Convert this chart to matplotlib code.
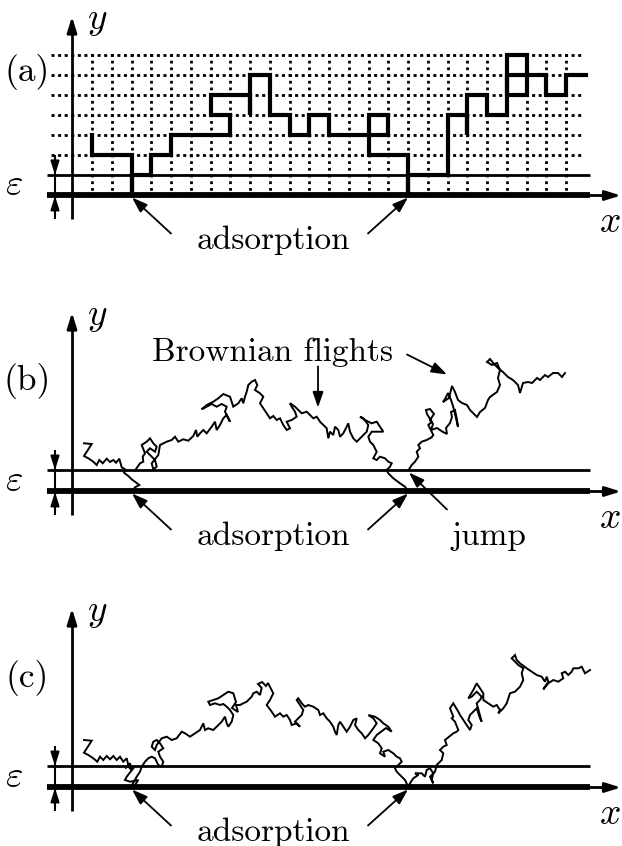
import numpy as np
import matplotlib
matplotlib.use('Agg')
import matplotlib.pyplot as plt

plt.rcParams['mathtext.fontset'] = 'cm'
plt.rcParams['lines.scale_dashes'] = False

W, H = 622, 846
PX = 0.72  # points per pixel at dpi 100

# ---------------- panel layout values (pixel rows) ----------------
PANEL_LABELS = ['(a)', '(b)', '(c)']
WALL_Y = [195.5, 491.5, 787.5]      # adsorbing wall per panel
EPS = [20.1, 21.0, 21.0]            # width of the epsilon strip
LABEL_Y = [72, 381, 678]

# ---------------- (a) lattice walk, vertices in (column, row) ----------------
LAT_PATH = [(0, 3), (0, 2), (2, 2), (2, 0), (2, 1), (3, 1), (3, 2), (4, 2), (4, 3),
            (7, 3), (7, 4), (6, 4), (6, 5), (8, 5), (8, 4), (8, 6), (9, 6), (9, 4),
            (10, 4), (10, 3), (11, 3), (11, 4), (12, 4), (12, 3), (15, 3), (15, 4),
            (14, 4), (14, 2), (16, 2), (16, 0), (16, 1), (18, 1), (18, 4), (19, 4),
            (19, 3), (19, 5), (20, 5), (20, 4), (21, 4), (21, 7), (22, 7), (22, 5),
            (21, 5), (21, 6), (23, 6), (23, 5), (24, 5), (24, 6), (25, 6)]
LAT_X0, LAT_DX, LAT_DY = 92.0, 19.75, 20.1
LAT_COLS = list(range(0, 25))
LAT_ROWS = list(range(2, 8))

# ---------------- (b) Brownian flights (pixel coordinates) ----------------
B_SEG1 = [(84, 443.3), (91.7, 444), (84, 456), (88.3, 458.3), (93.3, 461.7), (96.7, 465),
          (99.3, 460), (102.7, 463.3), (106.7, 458.7), (110, 462), (113.3, 460), (116, 462.7),
          (119.3, 458.7), (121.7, 467.3), (125, 469.3), (124, 472.7), (128.3, 476),
          (131.7, 479.3), (139.3, 485), (135, 487.3), (131.7, 491.5)]
B_SEG2 = [(135, 470.5), (140, 463.3), (143.3, 461.7), (142.7, 456.7), (145, 453.3), (141.7, 445),
          (146.7, 441.7), (150, 438.3), (153.3, 443.3), (156.7, 446.7), (155, 451.7), (150, 448.3),
          (146.7, 451.7), (151.7, 456.7), (155, 460), (156.7, 466.7), (153.3, 469.3), (151.7, 463.3),
          (158.3, 455), (160, 445), (166.7, 441.7), (171.7, 440), (175, 436.7), (178.3, 441.7),
          (183.3, 439.3), (188.3, 440.7), (193.3, 436), (196, 430), (197.3, 436.7), (200, 433.3),
          (203.3, 430), (206.7, 433.3), (211.7, 426.7), (215, 421.7), (216.7, 430), (220, 425),
          (223.3, 418.3), (226.7, 415), (230, 421.7), (225, 411.7), (226.7, 406.7), (221.7, 404),
          (216.7, 406.7), (211.7, 404), (206.7, 406.7), (201.7, 409.3), (206.7, 405), (213.3, 401.7),
          (218.3, 398.3), (223.3, 394), (230, 396.7), (233.3, 406.7), (238.3, 403.3), (241.7, 398.3),
          (243.3, 403.3), (245, 396.7), (246.7, 391.7), (248.3, 385), (251.7, 381.7), (255, 380),
          (257.3, 385), (255, 390), (260, 393.3), (263.3, 396.7), (260, 403.3), (263.3, 408.3),
          (266.7, 413.3), (270, 418.3), (273.3, 416), (276.7, 420), (280, 418.3), (283.3, 425),
          (286.7, 430), (290, 428.3), (286.7, 421.7), (291.7, 420), (296.7, 416.7), (295, 411.7),
          (291.7, 406.7), (290, 403.3), (295, 406.7), (298.3, 410), (301.7, 413.3), (306.7, 411.7),
          (310, 415), (313.3, 418.3), (316.7, 416.7), (320, 421.7), (323.3, 425), (326.7, 428.3),
          (328.3, 438.3), (330, 431.7), (333.3, 435), (335, 426.7), (338.3, 430), (340, 436.7),
          (343.3, 433.3), (346.7, 426.7), (348.3, 423.3), (350, 431.7), (353.3, 438.3),
          (356.7, 441.7), (361.7, 436.7), (366.7, 431.7), (368.3, 425), (363.3, 418.3), (360, 416.7),
          (365, 420), (371.7, 423.3), (376.7, 421.7), (380, 426.7), (383.3, 431.7), (371.7, 431.7),
          (368.3, 436.7), (370, 441.7), (373.3, 445), (376.7, 451.7), (373.3, 458.3), (376.7, 460),
          (380, 456.7), (385, 458.3), (388.3, 461.7), (391.7, 463.3), (390, 466.7), (386.7, 470),
          (388.3, 473.3), (393.3, 478.3), (400, 483.3), (405, 486.7), (408.3, 491.5)]
B_SEG3 = [(408.3, 470.5), (411.7, 465), (415, 461.7), (418.3, 456.7), (416.7, 451.7), (420, 448.3),
          (418.3, 445), (421.7, 441.7), (426.7, 440), (431.7, 437.3), (433.3, 435), (428.3, 425),
          (431.7, 421.7), (427, 414), (426, 410), (430, 409), (434, 414), (430, 420), (433, 424),
          (431, 430), (437, 428), (440, 430), (443, 432), (447, 434), (446, 428), (450, 423),
          (452, 417), (451, 412), (455, 410), (457, 420), (458, 427), (456, 418), (453, 406),
          (451, 400), (448, 393), (445, 399), (443, 402), (449, 398), (452, 386), (455, 392),
          (458, 400), (462, 403), (467, 405), (470, 410), (473, 413), (477, 417), (480, 412),
          (485, 408), (488, 400), (490, 397), (497, 392), (500, 385), (498, 378), (500, 370),
          (497, 363), (492, 365), (487, 362), (490, 359), (494, 364), (498, 368), (503, 372),
          (508, 377), (513, 380), (518, 385), (520, 393), (523, 383), (528, 382), (532, 383),
          (537, 378), (540, 380), (545, 375), (548, 377), (553, 373), (558, 373), (562, 377),
          (565, 373)]

# ---------------- (c) continuous Brownian path (pixel coordinates) ----------------
C_PATH = [(84, 740), (91.7, 740.7), (84, 752.7), (88.3, 755), (93.3, 758.3), (97.3, 761.7),
          (100, 756.7), (103.3, 760), (106.7, 756), (110, 759.3), (113.3, 756), (116.7, 760),
          (120, 756.7), (123.3, 761.7), (126.7, 758.3), (128.3, 765), (125, 768.3), (130, 763.3),
          (131.7, 770), (128.3, 766.7), (133.3, 768.3), (126.7, 776.7), (125, 780), (130, 781.7),
          (138.3, 780), (135, 785), (130.7, 787.5), (136.7, 776.7), (140, 771.7), (141.7, 766.7),
          (145, 761.7), (148.3, 758.3), (151.7, 756.7), (155, 758.3), (158.3, 765), (161.7, 766.7),
          (163.3, 761.7), (160, 756.7), (158.3, 751.7), (163.3, 748.3), (160, 743.3), (156.7, 740),
          (153.3, 741.7), (151.7, 746.7), (155, 750), (156.7, 745), (161.7, 738.3), (166.7, 736.7),
          (171.7, 740), (176.7, 738.3), (181.7, 731.7), (185, 733.3), (190, 736.7), (195, 733.3),
          (200, 730), (203.3, 723.3), (205, 730), (208.3, 728.3), (213.3, 730), (216.7, 726.7),
          (221.7, 721.7), (225, 716.7), (226.7, 723.3), (228.3, 726.7), (231.7, 721.7), (233.3, 715),
          (230, 710), (226.7, 706.7), (223.3, 704), (220, 705), (215, 703.3), (210, 705),
          (208.3, 701.7), (213.3, 700), (218.3, 698.3), (223.3, 695), (228.3, 691.7), (233.3, 693.3),
          (236, 702), (232, 708), (238, 712), (236, 705), (240, 705), (243.3, 703.3), (246.7, 701.7),
          (251.7, 696.7), (253.3, 693.3), (256.7, 691.7), (260, 695), (261.7, 688), (258, 684),
          (262, 682), (266, 686), (268, 683), (273.3, 693.3), (270, 700), (266.7, 705),
          (271.7, 711.7), (275, 716.7), (280, 713.3), (283.3, 716.7), (286.7, 715), (290, 720),
          (291.7, 725), (296.7, 723.3), (300, 726.7), (295, 721.7), (298.3, 718.3), (301.7, 715),
          (303.3, 710), (300, 705), (296.7, 700), (298.3, 698.3), (301.7, 703.3), (305, 706.7),
          (308.3, 705), (313.3, 706.7), (318.3, 710), (320, 715), (323.3, 713.3), (326.7, 718.3),
          (330, 721.7), (333.3, 726.7), (335, 731.7), (336.7, 735), (338.3, 725), (340, 721.7),
          (343.3, 726.7), (346.7, 731.7), (350, 726.7), (353.3, 720), (356.7, 718.3), (355, 725),
          (358.3, 730), (361.7, 733.3), (365, 738.3), (368.3, 735), (373.3, 728.3), (376.7, 723.3),
          (373.3, 718.3), (368.3, 715), (375, 716.7), (380, 720), (383.3, 723.3), (388.3, 726.7),
          (391.7, 731.7), (386, 728), (376.7, 735), (373.3, 740), (378.3, 743.3), (381.7, 748.3),
          (380, 753.3), (385, 756.7), (383.3, 751.7), (388.3, 750), (393.3, 753.3), (396.7, 756.7),
          (400, 758.3), (401.7, 761.7), (398.3, 765), (395, 768.3), (396.7, 771.7), (401.7, 776.7),
          (405, 780), (408.3, 787), (410, 783.3), (413.3, 778.3), (418.3, 775), (415, 773.3),
          (421.7, 773.3), (425, 776.7), (426.7, 770), (430, 768.3), (433.3, 773.3), (431.7, 780),
          (433.3, 783.3), (430, 776.7), (435, 771.7), (436.7, 765), (441.7, 760), (443.3, 753.3),
          (440, 750), (443.3, 746.7), (446.7, 745), (445, 740), (448.3, 737.3), (453.3, 733.3),
          (456.7, 731.7), (458.3, 730), (455, 721.7), (451.7, 718.3), (453.3, 716.7), (450, 708.3),
          (453.3, 703.3), (458.3, 711.7), (460, 715), (466.7, 725), (470, 730), (471.7, 725),
          (468.3, 720), (470, 715), (473.3, 711.7), (476.7, 708.3), (480, 718.3), (481.7, 721.7),
          (476.7, 703.3), (480, 700), (481.7, 696.7), (476.7, 691.7), (471.7, 696.7), (468.3, 698.3),
          (473.3, 690), (476.7, 683.3), (480, 688.3), (483.3, 693.3), (483.3, 700), (488.3, 703.3),
          (493.3, 706.7), (496.7, 705), (500, 710), (498.3, 713.3), (503.3, 708.3), (506.7, 703.3),
          (508.3, 698.3), (510, 693.3), (515, 691.7), (520, 686.7), (523.3, 680), (521.7, 673.3),
          (523.3, 668.3), (518.3, 665), (515, 661.7), (511.7, 658.3), (515, 655), (516.7, 660),
          (520, 663.3), (526.7, 668.3), (531.7, 671.7), (536.7, 675), (541.7, 676.7), (545, 681.7),
          (546.7, 676.7), (548.3, 681.7), (543.3, 689.3), (548.3, 683.3), (553.3, 680),
          (558.3, 681.7), (563.3, 678.3), (561.7, 673.3), (565, 671.7), (568.3, 675), (571.7, 671.7),
          (573.3, 668.3), (578.3, 668.3), (581.7, 666.7), (585, 673.3), (590, 670)]

# ---------------- annotation text ----------------
ADS_TEXT = 'adsorption'
FLIGHTS_TEXT = 'Brownian flights'
JUMP_TEXT = 'jump'
ADS_SITES = [132, 408]   # x where the walk hits the wall

SERIF = 'cmr10'
TXT_FS = 24
LBL_FS = 25.5
MATH_FS = 27

fig = plt.figure(figsize=(W / 100, H / 100), dpi=100)
ax = fig.add_axes([0, 0, 1, 1])
ax.set_xlim(0, W)
ax.set_ylim(H, 0)
ax.axis('off')


def arrow(x0, y0, x1, y1, lw=1.3, hl=13, hw=4.5):
    ax.annotate('', xy=(x1, y1), xytext=(x0, y0),
                arrowprops=dict(arrowstyle='-|>,head_length=%.3f,head_width=%.3f'
                                % (hl * PX / 10, hw * PX / 10),
                                mutation_scale=10, lw=lw, color='black',
                                shrinkA=0, shrinkB=0))


for k in range(3):
    wy = WALL_Y[k]
    ey = wy - EPS[k]
    # axes
    ax.plot([72, 72], [wy + 24, wy - 170], color='black', lw=2.0, solid_capstyle='butt', zorder=5)
    arrow(72, wy - 165, 72, wy - 179, lw=2.0, hl=13, hw=4)
    ax.plot([47, 608], [wy, wy], color='black', lw=2.0, solid_capstyle='butt', zorder=5)
    arrow(605, wy, 621, wy, lw=2.0, hl=13, hw=4)
    # adsorbing wall and epsilon line
    ax.plot([47, 590], [wy, wy], color='black', lw=4.2, solid_capstyle='butt', zorder=6)
    ax.plot([47, 590], [ey, ey], color='black', lw=2.0, solid_capstyle='butt', zorder=6)
    # epsilon marker
    ax.plot([55, 55], [ey - 20, wy + 24], color='black', lw=1.5, solid_capstyle='butt', zorder=6)
    arrow(55, ey - 8, 55, ey - 0.5, lw=1.5, hl=11, hw=3.5)
    arrow(55, wy + 8, 55, wy + 0.5, lw=1.5, hl=11, hw=3.5)
    ax.text(14, wy - EPS[k] / 2, r'$\varepsilon$', fontsize=MATH_FS, ha='center', va='center')
    ax.text(97, wy - 175, r'$y$', fontsize=MATH_FS, ha='center', va='center')
    ax.text(610, wy + 26, r'$x$', fontsize=MATH_FS, ha='center', va='center')
    ax.text(27, LABEL_Y[k], PANEL_LABELS[k], family=SERIF, fontsize=LBL_FS, ha='center', va='center')
    # adsorption labels and arrows
    ax.text(273, wy + 45, ADS_TEXT, family=SERIF, fontsize=TXT_FS, ha='center', va='center')
    arrow(171, wy + 38, ADS_SITES[0], wy + 2)
    arrow(368, wy + 38, ADS_SITES[1], wy + 2)

# ---- (a) lattice ----
wa = WALL_Y[0]
for j in LAT_ROWS:
    yy = wa - j * LAT_DY
    ax.plot([LAT_X0 - 2 * LAT_DX - 1.5, 582], [yy, yy], color='black', lw=2.0,
            ls=(0, (2.2, LAT_DX / 3 * PX - 2.2)), solid_capstyle='butt', zorder=2)
for i in LAT_COLS:
    xx = LAT_X0 + i * LAT_DX
    ax.plot([xx, xx], [wa + 1.5, wa - 7 * LAT_DY - 3], color='black', lw=2.0,
            ls=(0, (2.0, LAT_DY / 3 * PX - 2.0)), solid_capstyle='butt', zorder=2)
lat = np.array(LAT_PATH, dtype=float)
ax.plot(LAT_X0 + lat[:, 0] * LAT_DX, wa - lat[:, 1] * LAT_DY, color='black', lw=3.0,
        solid_joinstyle='miter', solid_capstyle='projecting', zorder=7)

# ---- (b) Brownian flights ----
for seg in (B_SEG1, B_SEG2, B_SEG3):
    s = np.array(seg)
    ax.plot(s[:, 0], s[:, 1], color='black', lw=1.4, solid_joinstyle='miter', zorder=7)
wb = WALL_Y[1]
ax.text(272, wb - 139, FLIGHTS_TEXT, family=SERIF, fontsize=TXT_FS, ha='center', va='center')
arrow(318, wb - 125, 318, wb - 84)
arrow(407, wb - 137, 447, wb - 117)
ax.text(489, wb + 45, JUMP_TEXT, family=SERIF, fontsize=TXT_FS, ha='center', va='center')
arrow(447, wb + 18, 409, wb - EPS[1] + 2)

# ---- (c) continuous path ----
c = np.array(C_PATH)
ax.plot(c[:, 0], c[:, 1], color='black', lw=1.4, solid_joinstyle='miter', zorder=7)

fig.savefig('out.png', dpi=100)
